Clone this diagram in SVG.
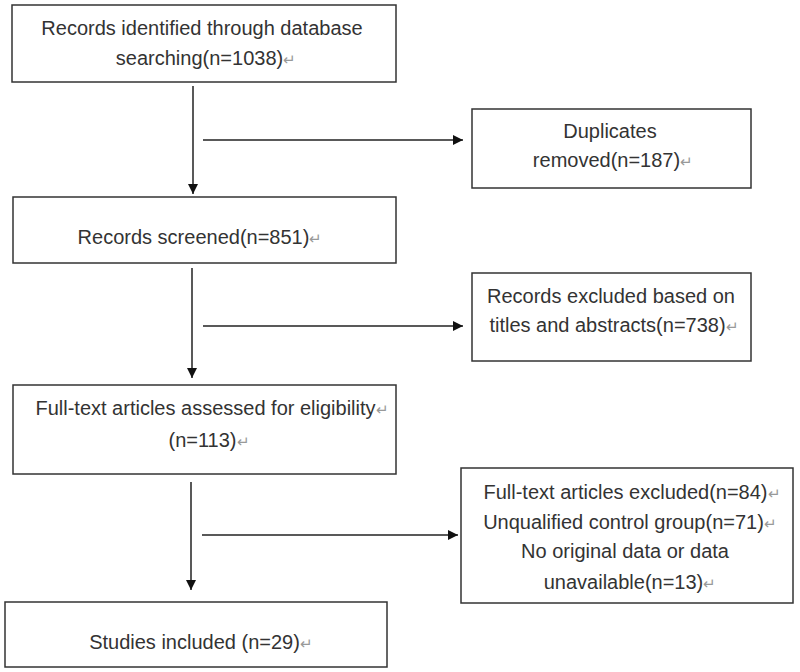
<svg xmlns="http://www.w3.org/2000/svg" width="800" height="672" viewBox="0 0 800 672">
<style>
.box{fill:#fff;stroke:#333;stroke-width:1.5}
.t{font-family:"Liberation Sans",Arial,sans-serif;font-size:20px;fill:#333;text-anchor:middle}
.r{fill:#999;font-size:15px}
.c{stroke:#222;stroke-width:1.5;fill:none;marker-end:url(#ah)}
</style>
<defs>
<marker id="ah" viewBox="0 0 10 10" refX="10" refY="5" markerWidth="10" markerHeight="10" markerUnits="userSpaceOnUse" orient="auto">
<path d="M0,0 L10,5 L0,10 Z" fill="#111"/>
</marker>
</defs>
<rect width="800" height="672" fill="#fff"/>
<g id="n1">
<rect class="box" x="12" y="5" width="384" height="77"/>
<text class="t" x="202" y="35">Records identified through database</text>
<text class="t" x="206" y="65">searching(n=1038)<tspan class="r">↵</tspan></text>
</g>
<g id="n2">
<rect class="box" x="472" y="109" width="279" height="79"/>
<text class="t" x="610" y="138">Duplicates</text>
<text class="t" x="613" y="167">removed(n=187)<tspan class="r">↵</tspan></text>
</g>
<g id="n3">
<rect class="box" x="13" y="197" width="383" height="66"/>
<text class="t" x="200" y="244">Records screened(n=851)<tspan class="r">↵</tspan></text>
</g>
<g id="n4">
<rect class="box" x="472" y="273" width="279" height="88"/>
<text class="t" x="611" y="303">Records excluded based on</text>
<text class="t" x="614" y="332">titles and abstracts(n=738)<tspan class="r">↵</tspan></text>
</g>
<g id="n5">
<rect class="box" x="13" y="385" width="383" height="89"/>
<text class="t" x="212" y="415">Full-text articles assessed for eligibility<tspan class="r">↵</tspan></text>
<text class="t" x="209" y="447">(n=113)<tspan class="r">↵</tspan></text>
</g>
<g id="n6">
<rect class="box" x="461" y="468" width="332" height="135"/>
<text class="t" x="632" y="499">Full-text articles excluded(n=84)<tspan class="r">↵</tspan></text>
<text class="t" x="630" y="529">Unqualified control group(n=71)<tspan class="r">↵</tspan></text>
<text class="t" x="625" y="558">No original data or data</text>
<text class="t" x="630" y="589">unavailable(n=13)<tspan class="r">↵</tspan></text>
</g>
<g id="n7">
<rect class="box" x="5" y="602" width="382" height="65"/>
<text class="t" x="201" y="649">Studies included (n=29)<tspan class="r">↵</tspan></text>
</g>
<g id="connectors">
<line class="c" x1="193" y1="86" x2="193" y2="194"/>
<line class="c" x1="203" y1="140" x2="463" y2="140"/>
<line class="c" x1="192" y1="268" x2="192" y2="378"/>
<line class="c" x1="203" y1="326" x2="463" y2="326"/>
<line class="c" x1="191" y1="482" x2="191" y2="590"/>
<line class="c" x1="202" y1="535" x2="458" y2="535"/>
</g>
</svg>
